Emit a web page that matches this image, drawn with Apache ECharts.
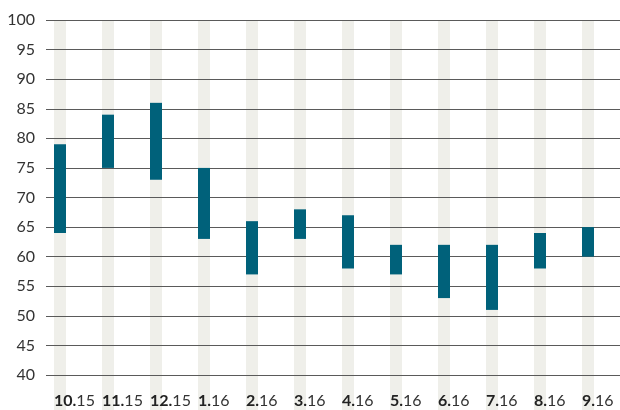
<!DOCTYPE html>
<html>
<head>
<meta charset="utf-8">
<script src="https://cdn.jsdelivr.net/npm/echarts@6/dist/echarts.min.js"></script>
<style>
  html, body { margin: 0; padding: 0; background: #fff; }
  #chart { width: 620px; height: 410px; }
</style>
</head>
<body>
<div id="chart"></div>
<script>
// months: bold part / year part
const months = ['10', '11', '12', '1', '2', '3', '4', '5', '6', '7', '8', '9'];
const years = ['15', '15', '15', '16', '16', '16', '16', '16', '16', '16', '16', '16'];
const lows = [64, 75, 73, 63, 57, 63, 58, 57, 53, 51, 58, 60];
const highs = [79, 84, 86, 75, 66, 68, 67, 62, 62, 62, 64, 65];
const yMin = 40, yMax = 100, yStep = 5;

const categories = months.map((m, i) => m + '.' + years[i]);
const spans = highs.map((h, i) => h - lows[i]);
const bands = categories.map(() => 1);

const font = 'Lato, "Noto Sans", sans-serif';
const barColor = '#00617a';
const bandColor = '#efefea';

let chart = echarts.init(document.getElementById('chart'));
let option = {
  animation: false,
  grid: [
    { left: 36, right: 8, top: 20, bottom: 35 },   // range bars
    { left: 46, right: 0, top: 20, bottom: 35 },   // gridlines + y labels
    { left: 30, right: 14, top: 20, bottom: 35 },  // x labels (left aligned to band)
    { left: 36, right: 8, top: 20, bottom: 0 }     // background bands
  ],
  xAxis: [
    { gridIndex: 0, type: 'category', data: categories, show: false },
    { gridIndex: 1, type: 'category', data: categories, show: false },
    {
      gridIndex: 2, type: 'category', data: categories, z: 4,
      axisLine: { show: false }, axisTick: { show: false },
      axisLabel: {
        interval: 0, align: 'left', margin: 18,
        formatter: function (v, i) {
          return '{b|' + months[i] + '.}{r|' + years[i] + '}';
        },
        rich: {
          b: { fontFamily: font, fontSize: 16, fontWeight: 'bold', color: '#222' },
          r: { fontFamily: font, fontSize: 16, color: '#333' }
        }
      }
    },
    { gridIndex: 3, type: 'category', data: categories, show: false }
  ],
  yAxis: [
    { gridIndex: 0, type: 'value', min: yMin, max: yMax, interval: yStep, show: false },
    {
      gridIndex: 1, type: 'value', min: yMin, max: yMax, interval: yStep, z: 3,
      axisLine: { show: false }, axisTick: { show: false },
      axisLabel: { margin: 11, fontFamily: font, fontSize: 16, color: '#333' },
      splitLine: { show: true, lineStyle: { color: '#5a5a5a', width: 1 } }
    },
    { gridIndex: 2, type: 'value', min: yMin, max: yMax, show: false },
    { gridIndex: 3, type: 'value', min: 0, max: 1, show: false }
  ],
  series: [
    {
      type: 'bar', xAxisIndex: 3, yAxisIndex: 3, data: bands,
      barWidth: 12, z: 1, silent: true,
      itemStyle: { color: bandColor }
    },
    {
      type: 'bar', xAxisIndex: 0, yAxisIndex: 0, stack: 'r', data: lows,
      barWidth: 12, z: 5, silent: true,
      itemStyle: { color: 'transparent' }
    },
    {
      type: 'bar', xAxisIndex: 0, yAxisIndex: 0, stack: 'r', data: spans,
      barWidth: 12, z: 5,
      itemStyle: { color: barColor }
    }
  ]
};
chart.setOption(option);
</script>
</body>
</html>
